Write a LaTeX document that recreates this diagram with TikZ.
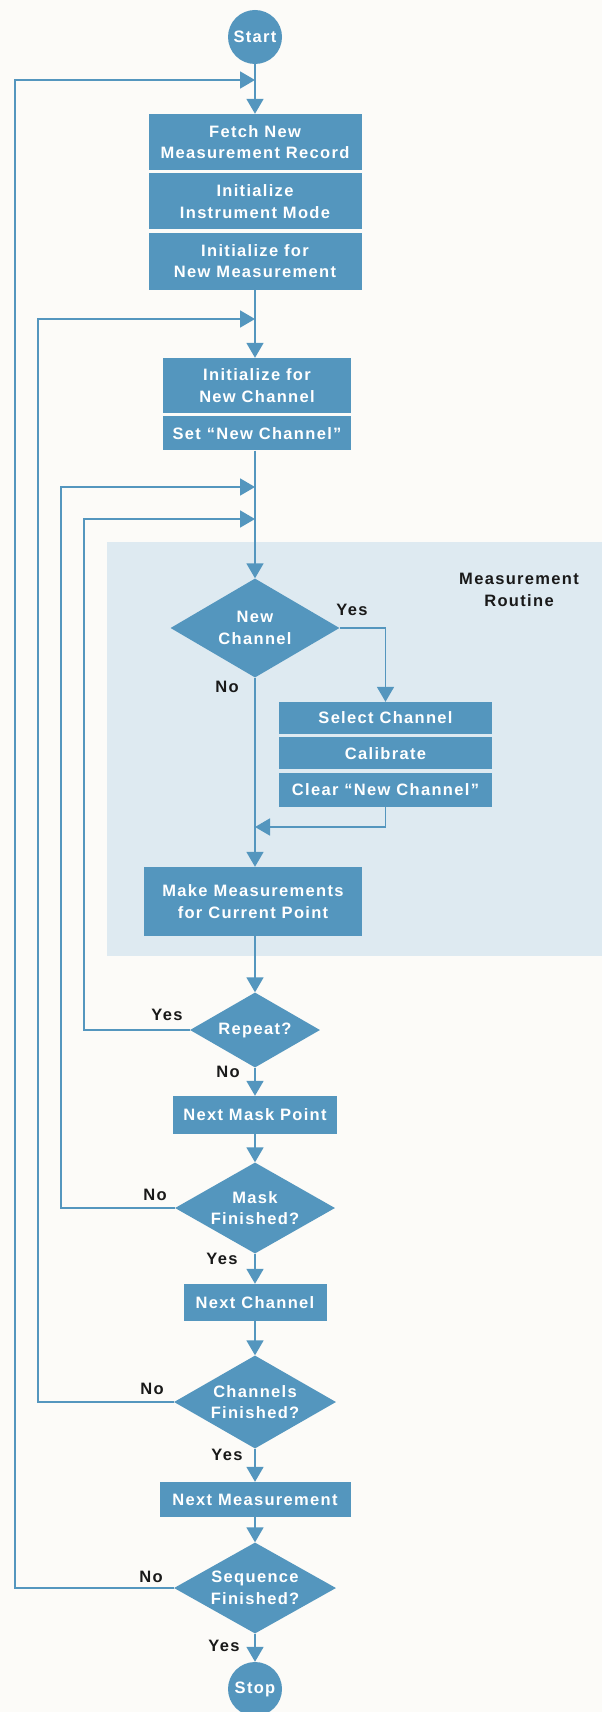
\documentclass[tikz,border=0pt]{standalone}
\usepackage{fontspec}
\newfontfamily\chartfont[LetterSpace=8]{Liberation Sans}
\usepackage{tikz}
\usetikzlibrary{positioning}
\usetikzlibrary{shapes.geometric,arrows.meta}

\definecolor{hpblue}{RGB}{84,150,190}
\definecolor{panelblue}{RGB}{222,234,241}
\definecolor{paper}{RGB}{252,251,248}

\tikzset{
  chartfont/.style={font=\chartfont\bfseries\fontsize{16.5}{21.5}\selectfont},
  block/.style={fill=hpblue, text=white, chartfont, align=center, inner sep=0pt},
  decision/.style={diamond, aspect=1.75, fill=hpblue, text=white, chartfont, align=center, inner sep=0pt},
  terminal/.style={circle, fill=hpblue, text=white, chartfont, minimum size=54pt, inner sep=0pt},
  answer/.style={text=black!90, chartfont, inner sep=0pt},
  flow/.style={draw=hpblue, line width=1.8pt, -{Triangle[width=17pt,length=15pt]}}
}

\begin{document}
\begin{tikzpicture}[x=1pt, y=-1pt]
    \useasboundingbox (0,0) rectangle (602,1712);
    \fill[paper] (0,0) rectangle (602,1712);
    \fill[panelblue] (107,542) rectangle (602,956);

    \node [terminal] (start) at (255,37) {Start};
    \node [block, minimum width=213pt, minimum height=56pt] (fetch) at (255,142) {Fetch New\\Measurement Record};
    \node [block, minimum width=213pt, minimum height=56pt] (instr) [below=3pt of fetch] {Initialize\\Instrument Mode};
    \node [block, minimum width=213pt, minimum height=57pt] (initmeas) [below=3pt of instr] {Initialize for\\New Measurement};

    \node [block, minimum width=188pt, minimum height=55pt] (initchan) at (257,385.5) {Initialize for\\New Channel};
    \node [block, minimum width=188pt, minimum height=34pt] (setnew) [below=3pt of initchan] {Set “New Channel”};

    \node [decision, minimum width=169pt, minimum height=99pt] (newchan) at (255,628) {New\\Channel};
    \node [block, minimum width=213pt, minimum height=32pt] (selchan) at (385.5,718) {Select Channel};
    \node [block, minimum width=213pt, minimum height=32pt] (calib) [below=3pt of selchan] {Calibrate};
    \node [block, minimum width=213pt, minimum height=34pt] (clearnew) [below=3pt of calib] {Clear “New Channel”};
    \node [block, minimum width=218pt, minimum height=69pt] (makemeas) at (253,901.5) {Make Measurements\\for Current Point};
    \node [answer, align=center] (routine) at (519,590) {Measurement\\Routine};

    \node [decision, minimum width=130pt, minimum height=75pt] (repeat) at (255,1030) {Repeat?};
    \node [block, minimum width=164pt, minimum height=38pt] (nextmask) at (255,1115) {Next Mask Point};
    \node [decision, minimum width=160pt, minimum height=91pt] (maskfin) at (255,1208) {Mask\\Finished?};
    \node [block, minimum width=143pt, minimum height=37pt] (nextchan) at (255,1302.5) {Next Channel};
    \node [decision, minimum width=162pt, minimum height=93pt] (chanfin) at (255,1402) {Channels\\Finished?};
    \node [block, minimum width=191pt, minimum height=35pt] (nextmeas) at (255,1499.5) {Next Measurement};
    \node [decision, minimum width=162pt, minimum height=91pt] (seqfin) at (255,1588) {Sequence\\Finished?};
    \node [terminal] (stop) at (255,1689) {Stop};

    % answers
    \node [answer] (yes1) at (352,610) {Yes};
    \node [answer] (no1) at (227,687) {No};
    \node [answer] (yes2) at (167,1015) {Yes};
    \node [answer] (no2) at (228,1072) {No};
    \node [answer] (no3) at (155,1195) {No};
    \node [answer] (yes3) at (222,1259) {Yes};
    \node [answer] (no4) at (152,1389) {No};
    \node [answer] (yes4) at (227,1455) {Yes};
    \node [answer] (no5) at (151,1577) {No};
    \node [answer] (yes5) at (224,1646) {Yes};

    % junctions on the main line
    \coordinate (j1) at (255,80);
    \coordinate (j2) at (255,319);
    \coordinate (j3) at (255,487);
    \coordinate (j4) at (255,519);
    \coordinate (j5) at (255,827);
    \coordinate (c1) at (15,80);
    \coordinate (c2) at (38,319);
    \coordinate (c3) at (61,487);
    \coordinate (c4) at (84,519);

    \draw [flow] (start) -- (fetch);
    \draw [flow] (initmeas.south -| j2) -- (initchan.north -| j2);
    \draw [flow] (setnew.south -| j3) -- (newchan);
    \draw [flow] (newchan.east) -| (selchan.north);
    \draw [flow] (clearnew.south) |- (j5);
    \draw [flow] (newchan) -- (makemeas.north -| newchan);
    \draw [flow] (makemeas.south -| repeat) -- (repeat);
    \draw [flow] (repeat) -- (nextmask);
    \draw [flow] (nextmask) -- (maskfin);
    \draw [flow] (maskfin) -- (nextchan);
    \draw [flow] (nextchan) -- (chanfin);
    \draw [flow] (chanfin) -- (nextmeas);
    \draw [flow] (nextmeas) -- (seqfin);
    \draw [flow] (seqfin) -- (stop);

    % loops back
    \draw [flow] (repeat.west) -| (c4) -- (j4);
    \draw [flow] (maskfin.west) -| (c3) -- (j3);
    \draw [flow] (chanfin.west) -| (c2) -- (j2);
    \draw [flow] (seqfin.west) -| (c1) -- (j1);
\end{tikzpicture}
\end{document}
